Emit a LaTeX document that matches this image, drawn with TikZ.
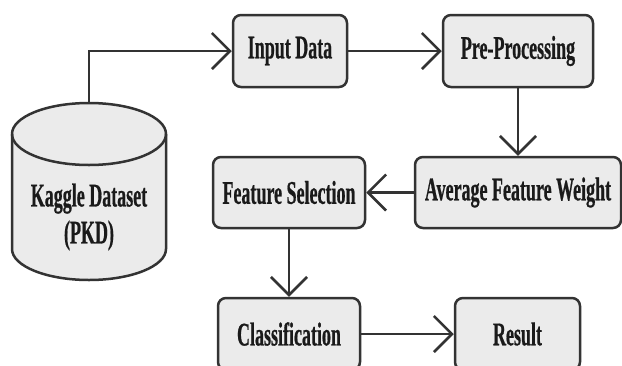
\documentclass[tikz,border=0pt]{standalone}
\usepackage{fontspec}
\newfontfamily\condserif[FakeStretch=0.545,FakeBold=0.6]{Liberation Serif}
\usetikzlibrary{arrows.meta}
\definecolor{boxfill}{HTML}{EBEBEB}
\definecolor{boxline}{HTML}{333333}
\definecolor{inkcol}{HTML}{1A1A1A}
\begin{document}
\begin{tikzpicture}[x=1pt,y=-1pt,
  label text/.style={font=\condserif\bfseries\fontsize{33}{37}\selectfont, text=inkcol},
  stepbox/.style={draw=boxline, line width=2.5pt, fill=boxfill, rounded corners=8pt,
    minimum height=72pt, inner sep=0pt, label text},
  flow/.style={draw=boxline, line width=2.6pt,
    -{Straight Barb[length=18pt, width=36pt, line width=2.6pt]}}]
  \useasboundingbox (0,0) rectangle (622,365);
  \fill[white] (0,0) rectangle (622,365);

  % database cylinder
  \path[draw=boxline, line width=2.5pt, fill=boxfill]
    (12,134) -- (12,249) arc[start angle=180, end angle=360, x radius=77pt, y radius=31pt]
    -- (166,134) arc[start angle=0, end angle=180, x radius=77pt, y radius=31pt] -- cycle;
  \draw[boxline, line width=2.5pt]
    (12,134) arc[start angle=180, end angle=360, x radius=77pt, y radius=31pt];
  \coordinate (dbtop) at (89,103);
  \node[label text, align=center, inner sep=0pt] (kaggle) at (89,217)
    {Kaggle Dataset\\[0pt](PKD)};

  % process steps
  \node[stepbox, minimum width=114pt] (input) at (290,51) {Input Data};
  \node[stepbox, minimum width=150pt] (pre) at (518,51) {Pre-Processing};
  \node[stepbox, minimum width=206pt, minimum height=71pt] (afw) at (518,192.5) {Average Feature Weight};
  \node[stepbox, minimum width=152pt, minimum height=71pt] (fs) at (289,192.5) {Feature Selection};
  \node[stepbox, minimum width=142pt] (cls) at (289,334) {Classification};
  \node[stepbox, minimum width=125pt] (res) at (517.5,334) {Result};

  % connectors
  \draw[flow] (dbtop) |- (input.west);
  \draw[flow] (input) -- (pre);
  \draw[flow] (pre) -- (afw);
  \draw[flow] (afw) -- (fs);
  \draw[flow] (fs) -- (cls);
  \draw[flow] (cls) -- (res);
\end{tikzpicture}
\end{document}
